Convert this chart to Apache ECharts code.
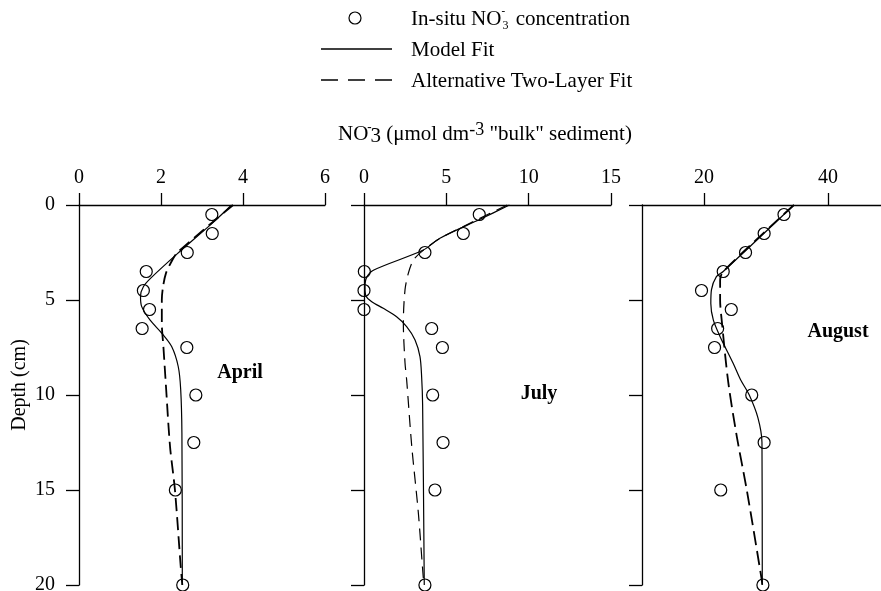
<!DOCTYPE html>
<html>
<head>
<meta charset="utf-8">
<script src="https://cdn.jsdelivr.net/npm/echarts@6/dist/echarts.min.js"></script>
<style>
  html, body { margin: 0; padding: 0; background: #fff; }
  #chart { width: 881px; height: 591px; }
</style>
</head>
<body>
<div id="chart"></div>
<script>
// Sampling depths (cm) of the pore-water profiles
const depths = [0.5, 1.5, 2.5, 3.5, 4.5, 5.5, 6.5, 7.5, 10, 12.5, 15, 20];

// Measured NO3- (umol dm-3 bulk sediment) per month
const aprilObs  = [3.24, 3.25, 2.64, 1.64, 1.57, 1.72, 1.54, 2.63, 2.85, 2.80, 2.35, 2.53];
const julyObs   = [7.0, 6.03, 3.70, 0.02, 0.0, 0.0, 4.11, 4.76, 4.17, 4.80, 4.31, 3.70];
const augustObs = [32.9, 29.7, 26.7, 23.1, 19.6, 24.4, 22.2, 21.7, 27.7, 29.7, 22.7, 29.5];

// Model fit profiles: [NO3, depth]
const aprilModel = [[3.72, 0], [3.28, 0.9], [2.38, 2.6], [1.75, 3.85], [1.57, 4.3], [1.50, 4.8],
  [1.53, 5.35], [1.73, 6.05], [2.02, 6.75], [2.26, 7.45], [2.42, 8.5], [2.48, 9.7], [2.51, 12], [2.52, 20]];
const julyModel = [[8.83, 0], [7.05, 0.75], [4.61, 1.75], [3.6, 2.37], [0.6, 3.42], [0.16, 3.81],
  [0.06, 4.3], [0.12, 4.79], [0.47, 5.09], [1.17, 5.44], [1.98, 5.88], [2.59, 6.4], [3.1, 7.1],
  [3.4, 7.98], [3.5, 9.04], [3.56, 10.5], [3.66, 20]];
const augustModel = [[34.5, 0], [23.1, 3.5], [22.0, 3.77], [21.2, 4.47], [21.1, 5.18], [21.5, 6.05],
  [22.6, 6.93], [24.7, 8.33], [25.9, 9.2], [27.3, 10.0], [28.7, 11.2], [29.35, 12.5], [29.4, 20]];

// Alternative two-layer fit profiles: [NO3, depth]
const aprilTwoLayer = [[3.76, 0], [2.40, 2.5], [2.25, 3.0], [2.12, 3.6], [2.05, 4.3], [2.02, 5.0],
  [2.02, 6.2], [2.06, 7.5], [2.12, 9.5], [2.22, 12.7], [2.34, 15], [2.48, 19], [2.52, 20]];
const julyTwoLayer = [[8.7, 0], [7.0, 0.72], [4.7, 1.72], [3.65, 2.35], [3.0, 2.9], [2.69, 3.6],
  [2.49, 4.47], [2.39, 6.2], [2.49, 8.3], [2.59, 9.2], [2.9, 12.7], [3.3, 16.2], [3.6, 19.6], [3.66, 20]];
const augustTwoLayer = [[34.5, 0], [23.1, 3.5], [22.6, 3.95], [22.6, 5.0], [22.9, 6.2], [23.9, 9.3],
  [25.3, 12.2], [26.9, 15], [29.3, 19.7], [29.4, 20]];

// Horizontal axis ranges and ticks per panel
const xRanges = [
  { min: 0, max: 6, ticks: [0, 2, 4, 6] },
  { min: 0, max: 15, ticks: [0, 5, 10, 15] },
  { min: 10, max: 50, ticks: [20, 40] }
];
const depthTicks = [0, 5, 10, 15, 20];
const months = ['April', 'July', 'August'];

const FONT = "'Liberation Serif', 'Times New Roman', serif";
const grids = [
  { left: 79, top: 205, width: 246, height: 380 },
  { left: 364, top: 205, width: 247, height: 380 },
  { left: 642, top: 205, width: 248, height: 380 }
];

const obsSets = [aprilObs, julyObs, augustObs];
const modelSets = [aprilModel, julyModel, augustModel];
const twoLayerSets = [aprilTwoLayer, julyTwoLayer, augustTwoLayer];
const dashWidths = [1.8, 1.2, 1.8];
const dashPatterns = [[13, 6], [12, 7], [14, 6]];

const xAxes = xRanges.map((r, i) => ({
  type: 'value', gridIndex: i, position: 'top', min: r.min, max: r.max,
  axisLine: { show: true, onZero: false, lineStyle: { color: '#000', width: 1.3 } },
  axisTick: { show: true, inside: false, length: 12, customValues: r.ticks, lineStyle: { color: '#000', width: 1.3 } },
  axisLabel: { show: true, customValues: r.ticks, margin: 17, color: '#000', fontFamily: FONT, fontSize: 20 },
  splitLine: { show: false }
}));

const yAxes = grids.map((g, i) => ({
  type: 'value', gridIndex: i, inverse: true, min: 0, max: 20,
  axisLine: { show: true, onZero: false, lineStyle: { color: '#000', width: 1.3 } },
  axisTick: { show: true, inside: false, length: 13, customValues: depthTicks, lineStyle: { color: '#000', width: 1.3 } },
  axisLabel: { show: i === 0, customValues: depthTicks, margin: 24, color: '#000', fontFamily: FONT, fontSize: 20 },
  splitLine: { show: false }
}));

const series = [];
for (let i = 0; i < 3; i++) {
  series.push({
    type: 'line', xAxisIndex: i, yAxisIndex: i, data: modelSets[i], smooth: 0.3,
    showSymbol: false, silent: true, clip: false,
    lineStyle: { color: '#000', width: 1.2 }, z: 2
  });
  series.push({
    type: 'line', xAxisIndex: i, yAxisIndex: i, data: twoLayerSets[i], smooth: 0.3,
    showSymbol: false, silent: true, clip: false,
    lineStyle: { color: '#000', width: dashWidths[i], type: dashPatterns[i] }, z: 2
  });
  series.push({
    type: 'scatter', xAxisIndex: i, yAxisIndex: i,
    data: obsSets[i].map((v, k) => [v, depths[k]]),
    symbol: 'circle', symbolSize: 12, clip: false,
    itemStyle: { color: 'rgba(0,0,0,0)', borderColor: '#000', borderWidth: 1.2, opacity: 1 }, z: 3
  });
}

const richMain = { fontFamily: FONT, fontSize: 21, color: '#000', lineHeight: 26 };

const chart = echarts.init(document.getElementById('chart'), null, { renderer: 'canvas' });
chart.setOption({
  backgroundColor: '#fff',
  animation: false,
  grid: grids.map(g => Object.assign({ outerBoundsMode: 'none', containLabel: false }, g)),
  xAxis: xAxes,
  yAxis: yAxes,
  series: series,
  graphic: [
    // legend
    { type: 'circle', shape: { cx: 355, cy: 18, r: 6 }, style: { fill: 'none', stroke: '#000', lineWidth: 1.2 } },
    { type: 'line', shape: { x1: 321, y1: 49, x2: 392, y2: 49 }, style: { stroke: '#000', lineWidth: 1.3 } },
    { type: 'line', shape: { x1: 321, y1: 80, x2: 392, y2: 80 }, style: { stroke: '#000', lineWidth: 1.6, lineDash: [17, 10] } },
    { type: 'text', x: 411, y: 19, style: {
      text: '{t|In-situ NO}{sup|-}{sub|3}{t| concentration}', verticalAlign: 'middle',
      rich: {
        t: richMain,
        sup: { fontFamily: FONT, fontSize: 11, fontWeight: 'bold', color: '#000', verticalAlign: 'top', width: 1, lineHeight: 12 },
        sub: { fontFamily: FONT, fontSize: 12, color: '#000', verticalAlign: 'bottom', lineHeight: 12, padding: [0, 2, 0, 0] }
      } } },
    { type: 'text', x: 411, y: 50, style: { text: 'Model Fit', fontFamily: FONT, fontSize: 21, fill: '#000', verticalAlign: 'middle' } },
    { type: 'text', x: 411, y: 81, style: { text: 'Alternative Two-Layer Fit', fontFamily: FONT, fontSize: 21, fill: '#000', verticalAlign: 'middle' } },
    // shared horizontal axis title
    { type: 'text', x: 485, y: 134, style: {
      text: '{t|NO}{sup|-}{sub|3}{t| (μmol dm}{sup2|-3}{t| "bulk" sediment)}', align: 'center', verticalAlign: 'middle',
      rich: {
        t: richMain,
        sup: { fontFamily: FONT, fontSize: 13, fontWeight: 'bold', color: '#000', verticalAlign: 'top', width: 2, lineHeight: 14 },
        sub: { fontFamily: FONT, fontSize: 21, color: '#000', verticalAlign: 'bottom', lineHeight: 16 },
        sup2: { fontFamily: FONT, fontSize: 18, color: '#000', verticalAlign: 'top', lineHeight: 14 }
      } } },
    // vertical axis title
    { type: 'text', x: 20, y: 385, rotation: Math.PI / 2, style: {
      text: 'Depth (cm)', fontFamily: FONT, fontSize: 20, fill: '#000', align: 'center', verticalAlign: 'middle' } },
    // month labels
    { type: 'text', x: 240, y: 373, style: { text: months[0], fontFamily: FONT, fontSize: 20, fontWeight: 'bold', fill: '#000', align: 'center', verticalAlign: 'middle' } },
    { type: 'text', x: 539, y: 394, style: { text: months[1], fontFamily: FONT, fontSize: 20, fontWeight: 'bold', fill: '#000', align: 'center', verticalAlign: 'middle' } },
    { type: 'text', x: 838, y: 332, style: { text: months[2], fontFamily: FONT, fontSize: 20, fontWeight: 'bold', fill: '#000', align: 'center', verticalAlign: 'middle' } }
  ]
});
</script>
</body>
</html>
